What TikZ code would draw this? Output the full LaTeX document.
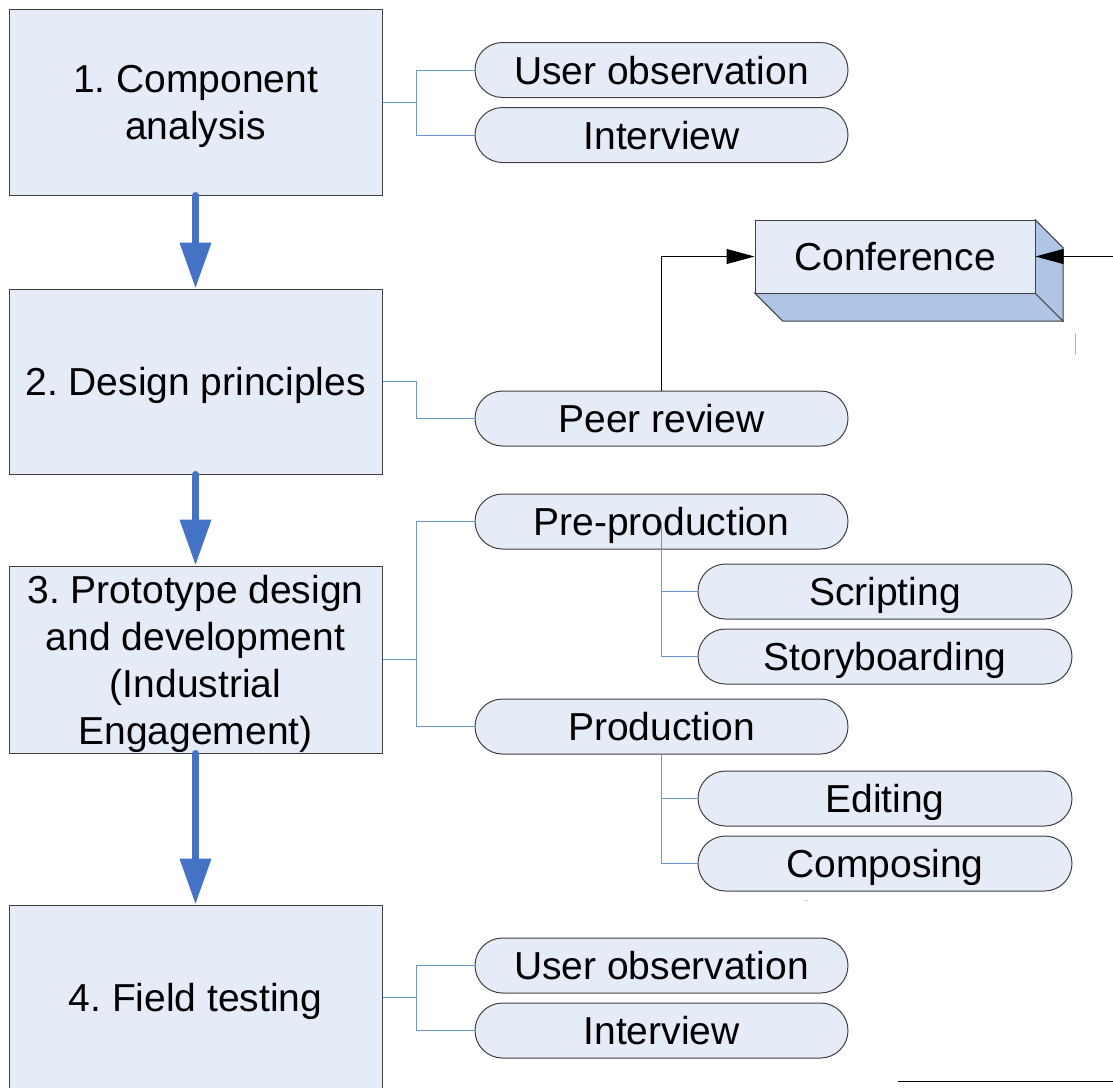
\documentclass[tikz,border=0pt]{standalone}
\usepackage{fontspec}
\setmainfont{Liberation Sans}
\usetikzlibrary{arrows.meta}
\definecolor{lightfill}{RGB}{230,236,247}
\definecolor{edge}{RGB}{64,64,64}
\definecolor{linkblue}{RGB}{110,150,210}
\definecolor{flowblue}{RGB}{68,114,196}
\definecolor{sidefill}{RGB}{176,197,229}
\frenchspacing
\begin{document}
\begin{tikzpicture}[x=1pt,y=-1pt,
  every node/.style={font=\fontsize{39}{47}\selectfont, inner sep=0pt, text depth=0pt},
  stage/.style={draw=edge, line width=1pt, fill=lightfill, minimum width=373pt, align=center},
  pill/.style={draw=edge, line width=1pt, fill=lightfill, rounded corners=27.5pt, minimum height=55pt, text height=28pt},
  mainpill/.style={pill, minimum width=373pt},
  subpill/.style={pill, minimum width=374pt},
  link/.style={draw=linkblue, line width=1pt},
  flow/.style={draw=flowblue, line width=7pt, line cap=round, -{Triangle[width=30pt,length=46pt,fill=flowblue]}},
  pointer/.style={draw=black, line width=1pt, -{Triangle[width=15pt,length=28pt]}},
  face/.style={draw=edge, line width=1pt, fill=sidefill}
]
\useasboundingbox (0,0) rectangle (1113,1087);

% stages
\node[stage, minimum height=186pt] (s1) at (195.5,102) {1. Component\\analysis};
\node[stage, minimum height=185pt] (s2) at (195.5,381.5) {2. Design principles};
\node[stage, minimum height=187pt] (s3) at (195.5,659.5) {3. Prototype design\\and development\\(Industrial\\Engagement)};
\node[stage, minimum height=184pt] (s4) at (195.5,997) {4. Field testing};

% pills
\node[mainpill] (p1a) at (661.5,70) {User observation};
\node[mainpill] (p1b) at (661.5,135) {Interview};
\node[mainpill] (peer) at (661.5,418.5) {Peer review};
\node[mainpill] (pre) at (661.5,521.5) {Pre-production};
\node[mainpill] (prod) at (661.5,726.5) {Production};
\node[subpill] (scr) at (885,591.5) {Scripting};
\node[subpill] (story) at (885,656.5) {Storyboarding};
\node[subpill] (edit) at (885,798.5) {Editing};
\node[subpill] (comp) at (885,863.5) {Composing};
\node[mainpill] (p4a) at (661.5,965.5) {User observation};
\node[mainpill] (p4b) at (661.5,1030.5) {Interview};

% conference 3D box
\node[minimum width=280pt, minimum height=73pt] (confshape) at (895,256.5) {};
\filldraw[face] (confshape.south west) -- ([shift={(28,28)}]confshape.south west)
  -- ([shift={(28,28)}]confshape.south east) -- (confshape.south east) -- cycle;
\filldraw[face] (confshape.north east) -- ([shift={(28,28)}]confshape.north east)
  -- ([shift={(28,28)}]confshape.south east) -- (confshape.south east) -- cycle;
\node[draw=edge, line width=1pt, fill=lightfill, minimum width=280pt, minimum height=73pt, text height=28pt] (conf) at (895,256.5) {Conference};

% links
\draw[link] (s1.east) -- ++(34,0) |- (p1a.west);
\draw[link] (s1.east) ++(34,0) |- (p1b.west);
\draw[link] (s2.east) -- ++(34,0) |- (peer.west);
\draw[link] (s3.east) -- ++(34,0) |- (pre.west);
\draw[link] (s3.east) ++(34,0) |- (prod.west);
\draw[link] (pre.center) |- (scr.west);
\draw[link] (pre.center) |- (story.west);
\draw[link] (prod.south) |- (edit.west);
\draw[link] (prod.south) |- (comp.west);
\draw[link] (s4.east) -- ++(34,0) |- (p4a.west);
\draw[link] (s4.east) ++(34,0) |- (p4b.west);

% flow arrows
\draw[flow] (s1.south) -- (s2.north);
\draw[flow] (s2.south) -- (s3.north);
\draw[flow] (s3.south) -- (s4.north);

% conference arrows
\coordinate (rin) at (1113,256.5);
\draw[pointer] (peer.north) |- (conf.west);
\draw[pointer] (rin) -- (conf.east);

% stray marks
\coordinate (tickA) at (1075,333);
\coordinate (tickB) at (1075,355);
\draw[gray!60, line width=1pt] (tickA) -- (tickB);
\coordinate (dotA) at (804,900);
\coordinate (dotB) at (808,900);
\draw[gray!40, line width=0.8pt] (dotA) -- (dotB);
\coordinate (baseA) at (898,1081);
\coordinate (baseB) at (1113,1081);
\draw[black, line width=1pt] (baseA) -- (baseB);
\end{tikzpicture}
\end{document}
